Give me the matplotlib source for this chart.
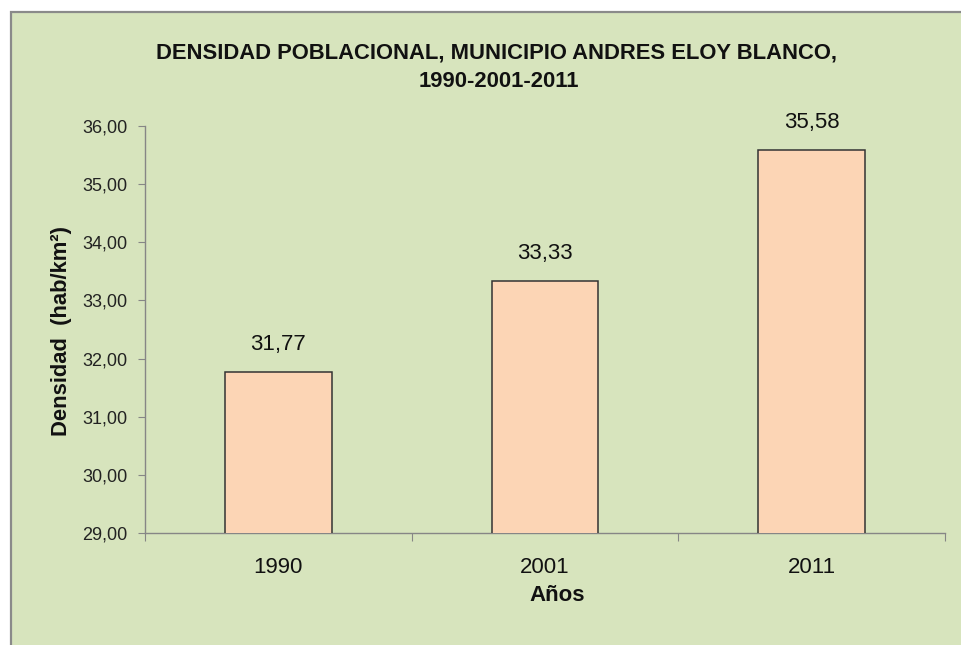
import matplotlib
matplotlib.use("Agg")
import matplotlib.pyplot as plt
from matplotlib.patches import Rectangle
from matplotlib.ticker import FixedLocator, FuncFormatter

years = ["1990", "2001", "2011"]
density = [31.77, 33.33, 35.58]
yticks = [29, 30, 31, 32, 33, 34, 35, 36]
title1 = "DENSIDAD POBLACIONAL, MUNICIPIO ANDRES ELOY BLANCO,"
title2 = "1990-2001-2011"
ylabel = "Densidad  (hab/km²)"
xlabel = "Años"

NARROW = ["Liberation Sans Narrow", "Liberation Sans", "DejaVu Sans"]
REG = ["Liberation Sans", "DejaVu Sans"]

W, H = 962, 645
fig = plt.figure(figsize=(W / 100, H / 100), dpi=100, facecolor="white")

# chart area background with border
bg = Rectangle((10.5 / W, -0.1), 1.2, 1 - 11.5 / H + 0.1, transform=fig.transFigure,
               facecolor="#d7e4bd", edgecolor="#8a8a8a", linewidth=1.6, zorder=-10)
fig.patches.append(bg)

ax = fig.add_axes([145 / W, 1 - 533 / H, 800 / W, 407 / H])
ax.set_facecolor("none")

x = list(range(len(years)))
bars = ax.bar(x, density, width=0.4, bottom=0, color="#fcd5b5", edgecolor="#333333",
              linewidth=1.1, zorder=3)
ax.set_xlim(-0.5, len(years) - 0.5)
ax.set_ylim(29, 36)

for xi, v in zip(x, density):
    ax.annotate(f"{v:.2f}".replace(".", ","), (xi, v), xytext=(0, 12.5),
                textcoords="offset points", ha="center", va="bottom",
                fontsize=16, family=NARROW, color="#111111")

for s in ["top", "right"]:
    ax.spines[s].set_visible(False)
for s in ["left", "bottom"]:
    ax.spines[s].set_color("#868686")
    ax.spines[s].set_linewidth(1.0)

ax.yaxis.set_major_locator(FixedLocator(yticks))
ax.yaxis.set_major_formatter(FuncFormatter(lambda v, p: f"{v:.2f}".replace(".", ",")))
ax.tick_params(axis="y", length=5, width=0.8, color="#868686", pad=7.5,
               labelsize=13, labelcolor="#222222")
for lab in ax.get_yticklabels():
    lab.set_family(REG)

ax.set_xticks([i - 0.5 for i in range(len(years) + 1)])
ax.set_xticklabels([])
ax.tick_params(axis="x", which="major", length=5.5, width=0.8, color="#868686")
ax.set_xticks(x, minor=True)
ax.set_xticklabels(years, minor=True, fontsize=16, family=NARROW, color="#111111")
ax.tick_params(axis="x", which="minor", length=0, pad=17)

fig.text(557 / W, 1 - 601 / H, xlabel, ha="center", va="baseline", fontsize=16,
         fontweight="bold", family=NARROW, color="#111111")
fig.text(62 / W, 1 - 331 / H, ylabel, ha="center", va="center", rotation=90,
         fontsize=15.8, fontweight="bold", family=NARROW, color="#111111")
fig.text(497 / W, 1 - 59 / H, title1, ha="center", va="baseline", fontsize=15.8,
         fontweight="bold", family=NARROW, color="#111111")
fig.text(499 / W, 1 - 87 / H, title2, ha="center", va="baseline", fontsize=15.8,
         fontweight="bold", family=NARROW, color="#111111")

fig.savefig("out.png", dpi=100, facecolor="white")
